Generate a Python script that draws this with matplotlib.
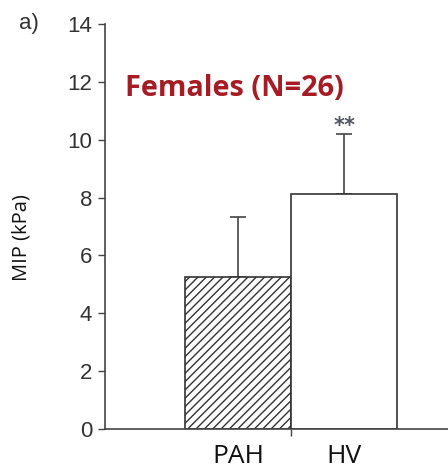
import matplotlib
matplotlib.use("Agg")
import matplotlib.pyplot as plt
from matplotlib.ticker import FixedLocator

groups = ["PAH", "HV"]
mip_mean = [5.25, 8.12]
mip_sd = [2.08, 2.08]
significance = ["", "**"]
yticks = [0, 2, 4, 6, 8, 10, 12, 14]

plt.rcParams["hatch.linewidth"] = 1.0
plt.rcParams["hatch.color"] = "#333333"

fig = plt.figure(figsize=(4.48, 4.74), dpi=100)
ax = fig.add_axes([0.234, 0.0949, 0.766, 0.8545])

x = list(range(len(groups)))
bars = ax.bar(x, mip_mean, width=1.0, color="white", edgecolor="#333333",
              linewidth=1.2, zorder=2)
bars[0].set_hatch("////")
ax.errorbar(x, mip_mean, yerr=[[0, 0], mip_sd], fmt="none", ecolor="#444444",
            elinewidth=1.2, capsize=6, capthick=1.2, zorder=1)
for xi, m, s, sig in zip(x, mip_mean, mip_sd, significance):
    if sig:
        ax.text(xi, m + s + 0.08, sig, ha="center", va="baseline", fontsize=15,
                color="#4f5563", family="DejaVu Sans", fontweight="bold")

ax.set_xlim(-1.26, 1.98)
ax.set_ylim(0, 14)
for side in ("top", "right"):
    ax.spines[side].set_visible(False)
ax.spines["left"].set_color("#444444")
ax.spines["bottom"].set_color("#444444")
ax.spines["left"].set_linewidth(1.2)
ax.spines["bottom"].set_linewidth(1.2)

ax.set_yticks(yticks)
ax.tick_params(axis="y", length=5, width=1.0, color="#444444", pad=4,
               labelsize=16, labelcolor="#333333")
for lbl in ax.get_yticklabels():
    lbl.set_family("Liberation Sans")

ax.set_xticks(x)
ax.set_xticklabels(groups, family="Open Sans", fontsize=19, color="#111111")
ax.tick_params(axis="x", which="major", length=0, pad=11)
ax.xaxis.set_minor_locator(FixedLocator([0.5]))
ax.tick_params(axis="x", which="minor", length=5, width=1.0, color="#444444")

fig.text(0.049, 0.498, "MIP (kPa)", rotation=90, ha="center", va="center",
         family="Open Sans", fontsize=14.5, color="#111111")
fig.text(0.043, 0.950, "a)", ha="left", va="center", family="Liberation Sans",
         fontsize=16, color="#333333")
ax.text(0.058, 0.84, "Females (N=26)", transform=ax.transAxes, ha="left",
        va="center", family="Open Sans", fontweight="bold", fontsize=20.8,
        color="#a51c24")

fig.savefig("out.png", dpi=100)
